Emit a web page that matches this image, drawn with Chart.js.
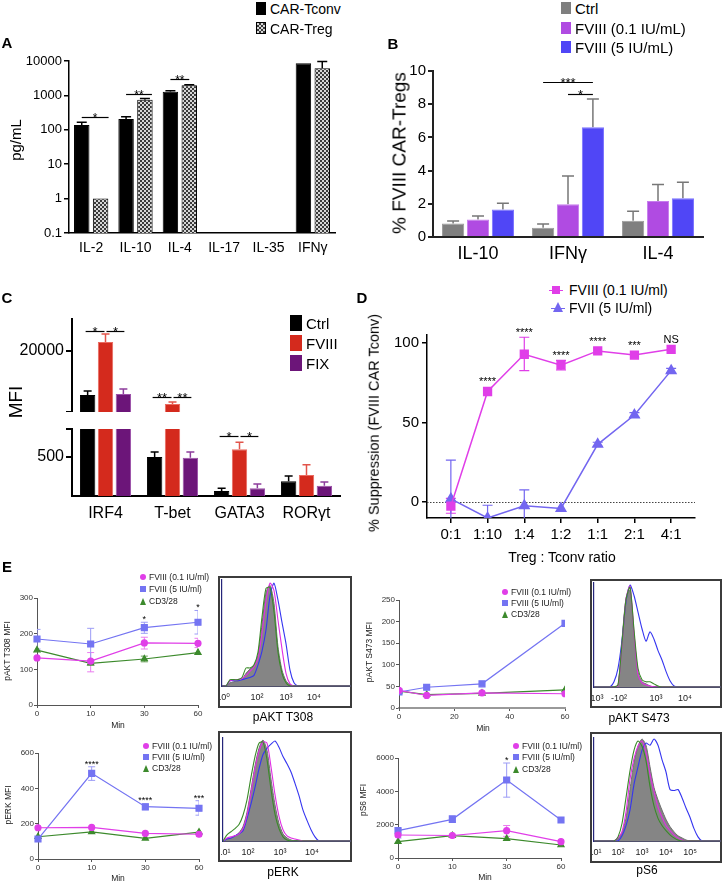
<!DOCTYPE html>
<html>
<head>
<meta charset="utf-8">
<title>FVIII CAR-Treg cytokines, suppression and signalling</title>
<script src="https://cdn.jsdelivr.net/npm/chart.js@4.4.1/dist/chart.umd.min.js"></script>
<style>
  body { margin: 0; width: 724px; height: 884px; position: relative; overflow: hidden; background: #fff;
         font-family: "Liberation Sans", "DejaVu Sans", Arial, sans-serif; }
  canvas.c { position: absolute; }
</style>
</head>
<body>
<script>
// A - cytokines from CAR-Tconv vs CAR-Treg (pg/mL, log axis)
const aCytokines = ['IL-2', 'IL-10', 'IL-4', 'IL-17', 'IL-35', 'IFNγ'];
const aTconv = [138, 206, 1280, null, null, 8570];
const aTconvErr = [165, 240, 1370, null, null, null];
const aTreg = [1, 750, 1960, null, null, 6140];
const aTregErr = [null, 810, 2040, null, null, 9700];
const aTicks = [0.1, 1, 10, 100, 1000, 10000];
const aTickLabels = ['0.1', '1', '10', '100', '1000', '10000'];

// B - % FVIII CAR-Tregs producing each cytokine
const bCytokines = ['IL-10', 'IFNγ', 'IL-4'];
const bCtrl = [0.82, 0.56, 0.98];
const bCtrlErr = [0.96, 0.78, 1.55];
const bLow = [1.06, 1.97, 2.17];
const bLowErr = [1.26, 3.67, 3.17];
const bHigh = [1.66, 6.61, 2.33];
const bHighErr = [2.03, 8.31, 3.3];

// C - transcription factor MFI (broken axis)
const cFactors = ['IRF4', 'T-bet', 'GATA3', 'RORγt'];
const cCtrl = [12790, 500, 64, 190];
const cCtrlErr = [13440, 564, 100, 256];
const cFviii = [21475, 11310, 600, 270];
const cFviiiErr = [22787, 11640, 690, 400];
const cFix = [12950, 490, 100, 130];
const cFixErr = [13770, 564, 155, 180];

// D - suppression of FVIII CAR Tconv
const dRatios = ['0:1', '1:10', '1:4', '1:2', '1:1', '2:1', '4:1'];
const dLow = [-2.5, 69.5, 92.9, 86, 95, 92.4, 96];
const dLowLo = [-7, null, 82.6, 83, null, null, null];
const dLowHi = [2.3, null, 103.6, 89, null, null, null];
const dFvii = [2, -10, -2.3, -4, 36.3, 54.7, 82.6];
const dFviiLo = [-22, -18, -12.3, null, 35, 53.2, 81.2];
const dFviiHi = [26.4, -2, 7.7, null, 37.6, 56.2, 84];
const dStars = ['', '****', '****', '****', '****', '***', 'NS'];
const dTicks = [0, 50, 100];

// E - phospho-signalling over time
const eTimes = ['0', '10', '30', '60'];
const eMinutes = [0, 10, 30, 60];
const e1Low = [132, 123, 174, 173];
const e1LowLo = [null, 93, 157, 161];
const e1LowHi = [null, 147, 190, 187];
const e1High = [185, 171, 217, 232];
const e1HighLo = [157, 125, 201, 199];
const e1HighHi = [212, 215, 232, 265];
const e1Cd = [154, 117, 129, 147];
const e1CdLo = [null, 112, 121, null];
const e1CdHi = [null, 124, 137, null];
const e1Stars = ['', '', '*', '*'];

const e3Low = [41, 29, 35, 33];
const e3High = [37, 48, 56, 196];
const e3Cd = [39, 31, 34, 42];

const e5Low = [177, 179, 145, 140];
const e5High = [113, 485, 296, 287];
const e5HighLo = [null, 445, 277, 248];
const e5HighHi = [null, 522, 312, 330];
const e5Cd = [126, 154, 117, 152];
const e5Stars = ['', '****', '****', '***'];

const e7Low = [1380, 1350, 1640, 980];
const e7LowLo = [null, null, 1300, null];
const e7LowHi = [null, null, 1950, null];
const e7High = [1640, 2320, 4680, 2280];
const e7HighLo = [1200, 2150, 3650, null];
const e7HighHi = [1750, 2550, 5700, null];
const e7Cd = [980, 1340, 1160, 780];
const e7Stars = ['', '', '*', ''];

// flow histograms: display channel, then gray / CD3-28 / FVIII 0.1 / FVIII 5 counts (% of mode)
const histChannel = [0, 4, 8, 12, 16, 20, 24, 28, 32, 36, 40, 44, 48, 52, 56, 60, 64, 68, 72, 76, 80, 84, 88, 92, 96, 100, 104, 108, 112, 116, 120, 124, 128];
const t308Gray    = [0, 0, 3, 4, 5, 6, 12, 16, 19, 29, 58, 88, 95, 78, 37, 15, 5, 1, 0, 0, 0, 0, 0, 0, 0, 0, 0, 0, 0, 0, 0, 0, 0];
const t308Green   = [0, 0, 6, 6, 6, 8, 17, 17, 20, 32, 65, 92, 93, 70, 32, 12, 3, 0, 0, 0, 0, 0, 0, 0, 0, 0, 0, 0, 0, 0, 0, 0, 0];
const t308Magenta = [0, 0, 5, 6, 6, 7, 10, 14, 18, 26, 50, 80, 97, 90, 62, 35, 12, 2, 0, 0, 0, 0, 0, 0, 0, 0, 0, 0, 0, 0, 0, 0, 0];
const t308Blue    = [0, 0, 5, 5, 5, 6, 7, 8, 10, 20, 33, 53, 85, 97, 81, 60, 40, 15, 3, 0, 0, 0, 0, 0, 0, 0, 0, 0, 0, 0, 0, 0, 0];
const t308TickPos = [1, 35, 64, 92];
const t308TickLab = ['10⁰', '10²', '10³', '10⁴'];

const s473Gray    = [0, 0, 0, 0, 0, 0, 1, 45, 85, 93, 50, 14, 5, 3, 1, 0, 0, 0, 0, 0, 0, 0, 0, 0, 0, 0, 0, 0, 0, 0, 0, 0, 0];
const s473Green   = [0, 0, 0, 0, 0, 0, 2, 42, 84, 96, 55, 18, 7, 5, 5, 3, 1, 0, 0, 0, 0, 0, 0, 0, 0, 0, 0, 0, 0, 0, 0, 0, 0];
const s473Magenta = [0, 0, 0, 0, 0, 0, 1, 40, 85, 97, 52, 12, 4, 2, 1, 0, 0, 0, 0, 0, 0, 0, 0, 0, 0, 0, 0, 0, 0, 0, 0, 0, 0];
const s473Blue    = [0, 0, 0, 0, 0, 5, 18, 45, 82, 98, 88, 72, 56, 44, 53, 46, 35, 26, 15, 6, 1, 0, 0, 0, 0, 0, 0, 0, 0, 0, 0, 0, 0];
const s473TickPos = [3, 25, 62, 91];
const s473TickLab = ['10³', '-10²', '10³', '10⁴'];

const erkGray    = [0, 2, 3, 5, 8, 14, 28, 50, 73, 90, 98, 88, 60, 35, 17, 7, 3, 1, 0, 0, 0, 0, 0, 0, 0, 0, 0, 0, 0, 0, 0, 0, 0];
const erkGreen   = [0, 6, 9, 12, 16, 25, 40, 62, 82, 95, 96, 79, 50, 26, 12, 4, 1, 0, 0, 0, 0, 0, 0, 0, 0, 0, 0, 0, 0, 0, 0, 0, 0];
const erkMagenta = [0, 3, 4, 5, 7, 12, 25, 47, 70, 87, 96, 95, 72, 45, 24, 11, 5, 3, 2, 1, 0, 0, 0, 0, 0, 0, 0, 0, 0, 0, 0, 0, 0];
const erkBlue    = [0, 2, 3, 5, 7, 10, 22, 36, 52, 70, 84, 90, 94, 97, 91, 82, 75, 67, 56, 44, 30, 20, 11, 4, 0, 0, 0, 0, 0, 0, 0, 0, 0];
const erkTickPos = [1, 25, 57, 89];
const erkTickLab = ['10¹', '10²', '10³', '10⁴'];

const s6Gray    = [0, 0, 0, 0, 0, 0, 2, 8, 22, 50, 76, 92, 99, 93, 72, 52, 40, 30, 21, 14, 9, 5, 3, 1, 0, 0, 0, 0, 0, 0, 0, 0, 0];
const s6Green   = [0, 0, 0, 0, 0, 0, 4, 17, 42, 68, 88, 97, 92, 78, 53, 34, 22, 15, 10, 6, 3, 1, 0, 0, 0, 0, 0, 0, 0, 0, 0, 0, 0];
const s6Magenta = [0, 0, 0, 0, 0, 0, 3, 9, 28, 60, 80, 92, 97, 86, 65, 48, 33, 23, 15, 10, 6, 3, 1, 0, 0, 0, 0, 0, 0, 0, 0, 0, 0];
const s6Blue    = [0, 0, 0, 0, 0, 0, 0, 5, 15, 30, 55, 72, 88, 95, 93, 99, 93, 79, 67, 50, 49, 50, 42, 32, 23, 12, 4, 0, 0, 0, 0, 0, 0];
const s6TickPos = [1, 24, 48, 72, 96];
const s6TickLab = ['10¹', '10²', '10³', '10⁴', '10⁵'];

const sans = '"Liberation Sans", "DejaVu Sans", Arial, sans-serif';
Chart.defaults.font.family = sans;
Chart.defaults.color = '#000';
Chart.defaults.animation = false;
Chart.defaults.responsive = false;
Chart.defaults.plugins.legend.display = false;
Chart.defaults.plugins.tooltip.enabled = false;

const MAGENTA = '#e03ee8';
const VIOLET = '#7366f0';

// plain html pieces (labels, legends, boxes)
function put(css, text) {
  const d = document.createElement('div');
  d.style.cssText = 'position:absolute;' + css;
  if (text != null) d.textContent = text;
  document.body.appendChild(d);
  return d;
}

function label(text, x, y, size, o) {
  o = o || {};
  let tf = 'translate(' + (o.left ? '0' : '-50%') + ',-50%)';
  if (o.rot) tf = 'translate(-50%,-50%) rotate(-90deg)';
  return put('left:' + x + 'px;top:' + y + 'px;font-size:' + size + 'px;line-height:1;white-space:nowrap;' +
    'transform:' + tf + ';color:' + (o.color || '#000') + ';' + (o.bold ? 'font-weight:bold;' : ''), text);
}

function swatch(kind, cx, cy, s, color) {
  const pos = 'left:' + (cx - s / 2) + 'px;top:' + (cy - s / 2) + 'px;';
  if (kind === 'dot') put(pos + 'width:' + s + 'px;height:' + s + 'px;border-radius:50%;background:' + color);
  if (kind === 'sq') put(pos + 'width:' + s + 'px;height:' + s + 'px;background:' + color);
  if (kind === 'tri') put(pos + 'width:0;height:0;border-left:' + (s / 2) + 'px solid transparent;border-right:' +
    (s / 2) + 'px solid transparent;border-bottom:' + s + 'px solid ' + color);
}

// canvas placed so that the plot area lands on area = [left, top, right, bottom]
function chartAt(area, m, cfg) {
  const cv = document.createElement('canvas');
  cv.className = 'c';
  cv.width = area[2] - area[0] + m[0] + m[2];
  cv.height = area[3] - area[1] + m[1] + m[3];
  cv.style.left = (area[0] - m[0]) + 'px';
  cv.style.top = (area[1] - m[1]) + 'px';
  document.body.appendChild(cv);
  const o = cfg.options;
  o.layout = { padding: { top: m[1], right: m[2], left: 0, bottom: 0 } };
  o.scales.x.afterFit = function (s) { s.height = m[3]; s.paddingLeft = 0; s.paddingRight = 0; };
  o.scales.y.afterFit = function (s) { s.width = m[0]; s.paddingTop = 0; s.paddingBottom = 0; };
  return new Chart(cv, cfg);
}

const noGrid = { display: false, drawTicks: false };
function tickMarks(color, width, len) {
  return { display: true, drawOnChartArea: false, drawTicks: true, tickLength: len, color: color, lineWidth: width };
}
function fixedTicks(list) {
  return function (s) { s.ticks = list.map(function (v) { return { value: v }; }); };
}

// error bars, significance bars, stars, dotted zero line
function marks(o) {
  o = o || {};
  return {
    id: 'marks',
    beforeDatasetsDraw(chart) {
      const ctx = chart.ctx, a = chart.chartArea;
      ctx.save();
      ctx.beginPath();
      ctx.rect(a.left, a.top - 1, a.right - a.left, a.bottom - a.top + 1);
      ctx.clip();
      if (o.zero) {
        const y = Math.round(chart.scales.y.getPixelForValue(0)) + 0.5;
        ctx.setLineDash([1.5, 1.5]);
        ctx.strokeStyle = '#444';
        ctx.lineWidth = 1;
        ctx.beginPath(); ctx.moveTo(a.left, y); ctx.lineTo(a.right, y); ctx.stroke();
        ctx.setLineDash([]);
      }
      chart.data.datasets.forEach(function (ds, i) {
        if (!ds.errHi && !ds.errLo) return;
        const meta = chart.getDatasetMeta(i);
        const ys = chart.scales[meta.yAxisID];
        ctx.strokeStyle = ds.errColor;
        ctx.lineWidth = ds.errWidth;
        meta.data.forEach(function (el, j) {
          const raw = ds.data[j];
          const v = raw !== null && typeof raw === 'object' ? raw.y : raw;
          if (v == null) return;
          const py = ys.getPixelForValue(v);
          const half = ds.errCap / 2;
          ctx.beginPath();
          [ds.errHi, ds.errLo].forEach(function (arr) {
            if (!arr || arr[j] == null) return;
            const pe = ys.getPixelForValue(arr[j]);
            ctx.moveTo(el.x, py); ctx.lineTo(el.x, pe);
            ctx.moveTo(el.x - half, pe); ctx.lineTo(el.x + half, pe);
          });
          ctx.stroke();
        });
      });
      ctx.restore();
    },
    afterDatasetsDraw(chart) {
      const ctx = chart.ctx, ys = chart.scales.y;
      ctx.save();
      ctx.fillStyle = '#000';
      ctx.strokeStyle = '#000';
      ctx.textAlign = 'center';
      ctx.textBaseline = 'alphabetic';
      (o.sig || []).forEach(function (s) {
        const xa = chart.getDatasetMeta(s.a[0]).data[s.a[1]].x + (s.pa || 0);
        const xb = chart.getDatasetMeta(s.b[0]).data[s.b[1]].x + (s.pb || 0);
        const y = Math.round(ys.getPixelForValue(s.y)) + 0.5;
        ctx.lineWidth = 1.2;
        ctx.beginPath(); ctx.moveTo(xa, y); ctx.lineTo(xb, y); ctx.stroke();
        ctx.font = o.sigFont;
        ctx.fillText(s.text, (xa + xb) / 2, y + 4);
      });
      if (o.stars) {
        const st = o.stars, ds = chart.data.datasets[st.ds], meta = chart.getDatasetMeta(st.ds);
        ctx.font = st.font;
        st.text.forEach(function (t, j) {
          if (!t) return;
          const raw = ds.data[j];
          const v = typeof raw === 'object' ? raw.y : raw;
          let top = ys.getPixelForValue(v) - st.r;
          if (ds.errHi && ds.errHi[j] != null) top = Math.min(top, ys.getPixelForValue(ds.errHi[j]));
          ctx.fillText(t, meta.data[j].x, top - (t === 'NS' ? 1 : st.gap));
        });
      }
      ctx.restore();
    }
  };
}

// checkered fill for the CAR-Treg bars
const checkerCanvas = document.createElement('canvas');
checkerCanvas.width = 4;
checkerCanvas.height = 4;
const cg = checkerCanvas.getContext('2d');
cg.fillStyle = '#d6d6d6'; cg.fillRect(0, 0, 4, 4);
cg.fillStyle = '#3a3a3a'; cg.fillRect(0, 0, 2, 2); cg.fillRect(2, 2, 2, 2);
const checker = cg.createPattern(checkerCanvas, 'repeat');

// ---------------- A ----------------
chartAt([69, 61, 335, 233], [69, 25, 10, 30], {
  type: 'bar',
  data: {
    labels: aCytokines,
    datasets: [
      { data: aTconv, errHi: aTconvErr, backgroundColor: '#000', borderColor: '#000', borderWidth: 1,
        errColor: '#000', errWidth: 1.5, errCap: 10, categoryPercentage: 0.85, barPercentage: 0.82 },
      { data: aTreg, errHi: aTregErr, backgroundColor: checker, borderColor: '#000', borderWidth: 1,
        errColor: '#000', errWidth: 1.5, errCap: 10, categoryPercentage: 0.85, barPercentage: 0.82 }
    ]
  },
  options: {
    scales: {
      x: { grid: noGrid, border: { color: '#000', width: 1.5 },
           ticks: { font: { size: 14 }, padding: 7, maxRotation: 0, autoSkip: false } },
      y: { type: 'logarithmic', min: 0.1, max: 10000, afterBuildTicks: fixedTicks(aTicks),
           ticks: { font: { size: 13 }, padding: 2, callback: function (v, i) { return aTickLabels[i]; } },
           grid: tickMarks('#000', 1.5, 5), border: { color: '#000', width: 1.5 } }
    }
  },
  plugins: [marks({
    sigFont: '12px ' + sans,
    sig: [
      { a: [0, 0], b: [1, 0], y: 231, text: '*', pb: 8 },
      { a: [0, 1], b: [1, 1], y: 1077, text: '**', pb: 7 },
      { a: [0, 2], b: [1, 2], y: 3000, text: '**' }
    ]
  })]
});
label('A', 7, 42, 15, { bold: true });
label('pg/mL', 15, 140, 15, { rot: true });
put('left:256px;top:2px;width:10px;height:13px;background:#000');
label('CAR-Tconv', 270, 9, 14, { left: true });
put('left:256px;top:22px;width:10px;height:12px;box-sizing:border-box;border:1px solid #000;' +
  'background:repeating-conic-gradient(#3a3a3a 0% 25%, #d6d6d6 0% 50%) 0 0 / 4px 4px');
label('CAR-Treg', 270, 29, 14, { left: true });

// ---------------- B ----------------
function bSet(data, err, fill, edge) {
  return { data: data, errHi: err, backgroundColor: fill, borderColor: edge, borderWidth: 1,
    errColor: '#777', errWidth: 1.5, errCap: 12, categoryPercentage: 0.83, barPercentage: 0.89 };
}
chartAt([433, 71, 703, 237], [40, 15, 15, 32], {
  type: 'bar',
  data: {
    labels: bCytokines,
    datasets: [
      bSet(bCtrl, bCtrlErr, '#7f7f7f', '#9c9c9c'),
      bSet(bLow, bLowErr, '#b04be2', '#c67cee'),
      bSet(bHigh, bHighErr, '#5046f6', '#7a72ff')
    ]
  },
  options: {
    scales: {
      x: { grid: noGrid, border: { color: '#222', width: 2 },
           ticks: { font: { size: 18 }, padding: 6, maxRotation: 0, autoSkip: false } },
      y: { min: 0, max: 10, ticks: { stepSize: 2, font: { size: 15 }, padding: 2 },
           grid: tickMarks('#222', 2, 5), border: { color: '#222', width: 2 } }
    }
  },
  plugins: [marks({
    sigFont: '13px ' + sans,
    sig: [
      { a: [0, 1], b: [2, 1], y: 9.32, text: '***' },
      { a: [1, 1], b: [2, 1], y: 8.6, text: '*' }
    ]
  })]
});
label('B', 393, 43, 15, { bold: true });
label('% FVIII CAR-Tregs', 399, 153, 19, { rot: true });
put('left:561px;top:2px;width:10px;height:12px;background:#7f7f7f');
label('Ctrl', 575, 8, 15, { left: true });
put('left:561px;top:22px;width:10px;height:12px;background:#b04be2');
label('FVIII (0.1 IU/mL)', 575, 28, 15, { left: true });
put('left:561px;top:41px;width:10px;height:12px;background:#5046f6');
label('FVIII (5 IU/mL)', 575, 47, 15, { left: true });

// ---------------- C (broken axis: two stacked charts) ----------------
function cSets() {
  return [
    { data: cCtrl, errHi: cCtrlErr, backgroundColor: '#000', borderColor: '#000', borderWidth: 1,
      errColor: '#000', errWidth: 1.5, errCap: 8, clip: 0, categoryPercentage: 0.8, barPercentage: 0.86 },
    { data: cFviii, errHi: cFviiiErr, backgroundColor: '#d42a1d', borderColor: '#ea6a60', borderWidth: 1,
      errColor: '#e2544a', errWidth: 1.5, errCap: 8, clip: 0, categoryPercentage: 0.8, barPercentage: 0.86 },
    { data: cFix, errHi: cFixErr, backgroundColor: '#6c1579', borderColor: '#9b50a8', borderWidth: 1,
      errColor: '#8d3d9c', errWidth: 1.5, errCap: 8, clip: 0, categoryPercentage: 0.8, barPercentage: 0.86 }
  ];
}
const cUpperTicks = [10000, 20000];
const cUpperLabels = ['', '20000'];
chartAt([72, 319, 340, 412], [72, 14, 10, 0], {
  type: 'bar',
  data: { labels: cFactors, datasets: cSets() },
  options: {
    scales: {
      x: { display: false },
      y: { min: 10000, max: 25250, afterBuildTicks: fixedTicks(cUpperTicks),
           ticks: { font: { size: 16 }, padding: 2, callback: function (v, i) { return cUpperLabels[i]; } },
           grid: tickMarks('#000', 2, 6), border: { color: '#000', width: 2 } }
    }
  },
  plugins: [marks({
    sigFont: '13px ' + sans,
    sig: [
      { a: [0, 0], b: [1, 0], y: 23280, text: '*', pa: -2, pb: -1 },
      { a: [1, 0], b: [2, 0], y: 23280, text: '*', pa: 1, pb: 1 },
      { a: [0, 1], b: [1, 1], y: 12459, text: '**', pa: -2, pb: -1 },
      { a: [1, 1], b: [2, 1], y: 12459, text: '**', pa: 1, pb: 1 }
    ]
  })]
});
const cLowerTicks = [500, 860];
const cLowerLabels = ['500', ''];
chartAt([72, 429, 340, 496], [72, 4, 10, 30], {
  type: 'bar',
  data: { labels: cFactors, datasets: cSets() },
  options: {
    scales: {
      x: { grid: noGrid, border: { color: '#000', width: 2 },
           ticks: { font: { size: 16 }, padding: 8, maxRotation: 0, autoSkip: false } },
      y: { min: 0, max: 860, afterBuildTicks: fixedTicks(cLowerTicks),
           ticks: { font: { size: 16 }, padding: 2, callback: function (v, i) { return cLowerLabels[i]; } },
           grid: tickMarks('#000', 2, 6), border: { color: '#000', width: 2 } }
    }
  },
  plugins: [marks({
    sigFont: '13px ' + sans,
    sig: [
      { a: [0, 2], b: [1, 2], y: 769, text: '*', pa: -2, pb: -1 },
      { a: [1, 2], b: [2, 2], y: 769, text: '*', pa: 1, pb: 1 }
    ]
  })]
});
label('C', 7, 297, 15, { bold: true });
label('MFI', 15, 402, 19, { rot: true });
put('left:290px;top:315px;width:12px;height:16px;background:#000');
label('Ctrl', 306, 323, 15, { left: true });
put('left:290px;top:335px;width:12px;height:16px;background:#d42a1d');
label('FVIII', 306, 343, 15, { left: true });
put('left:290px;top:355px;width:12px;height:16px;background:#6c1579');
label('FIX', 306, 363, 15, { left: true });

// ---------------- D ----------------
chartAt([427, 335, 695, 518], [50, 25, 15, 32], {
  type: 'line',
  data: {
    datasets: [
      { data: dLow.map(function (v, i) { return { x: i, y: v }; }), errLo: dLowLo, errHi: dLowHi,
        borderColor: MAGENTA, backgroundColor: MAGENTA, pointStyle: 'rect', pointRadius: 5.5, borderWidth: 1.5,
        errColor: MAGENTA, errWidth: 1.2, errCap: 10 },
      { data: dFvii.map(function (v, i) { return { x: i, y: v }; }), errLo: dFviiLo, errHi: dFviiHi,
        borderColor: VIOLET, backgroundColor: VIOLET, pointStyle: 'triangle', pointRadius: 5.5, borderWidth: 1.5,
        errColor: VIOLET, errWidth: 1.2, errCap: 10 }
    ]
  },
  options: {
    scales: {
      x: { type: 'linear', min: -0.65, max: 6.65, afterBuildTicks: fixedTicks(dRatios.map(function (r, i) { return i; })),
           ticks: { font: { size: 15 }, padding: 3, maxRotation: 0, autoSkip: false,
                    callback: function (v, i) { return dRatios[i]; } },
           grid: tickMarks('#000', 1.5, 5), border: { color: '#000', width: 1.5 } },
      y: { min: -10, max: 105, afterBuildTicks: fixedTicks(dTicks),
           ticks: { font: { size: 15 }, padding: 3, callback: function (v, i) { return String(dTicks[i]); } },
           grid: tickMarks('#000', 1.5, 5), border: { color: '#000', width: 1.5 } }
    }
  },
  plugins: [marks({ zero: true, stars: { ds: 0, text: dStars, font: '11px ' + sans, r: 5, gap: 1 } })]
});
label('D', 362, 297, 15, { bold: true });
put('left:549px;top:289.5px;width:14px;height:1.5px;background:' + MAGENTA);
swatch('sq', 556, 290, 8, MAGENTA);
label('FVIII (0.1 IU/ml)', 569, 290, 14, { left: true });
put('left:551px;top:307.5px;width:14px;height:1.5px;background:' + VIOLET);
swatch('tri', 558, 307, 10, VIOLET);
label('FVII (5 IU/ml)', 569, 308, 14, { left: true });
label('% Suppression (FVIII CAR Tconv)', 374, 423, 14.5, { rot: true });
label('Treg : Tconv ratio', 562, 557, 14);

// ---------------- E: time courses ----------------
const E_MAG = '#e03ee8', E_BLUE = '#7474f2', E_GREEN = '#3c8a2c';
function eSet(data, lo, hi, color, err, style, r) {
  return { data: data, errLo: lo, errHi: hi, borderColor: color, backgroundColor: color,
    pointStyle: style, pointRadius: r, borderWidth: 1.2, errColor: err, errWidth: 1, errCap: 7 };
}
function eScales(yMax, yStep) {
  return {
    x: { grid: tickMarks('#555', 1, 3), border: { color: '#555', width: 1 },
         ticks: { font: { size: 8 }, color: '#333', padding: 1, maxRotation: 0, autoSkip: false } },
    y: { min: 0, max: yMax,
         ticks: { stepSize: yStep, font: { size: 8 }, color: '#333', padding: 1,
                  callback: function (v) { return String(v); } },
         grid: tickMarks('#555', 1, 3), border: { color: '#555', width: 1 } }
  };
}
function eLegend(x, rows) {
  swatch('dot', x, rows[0], 6, E_MAG);
  label('FVIII (0.1 IU/ml)', x + 6, rows[0], 8.5, { left: true, color: '#222' });
  swatch('sq', x, rows[1], 6, E_BLUE);
  label('FVIII (5 IU/ml)', x + 6, rows[1], 8.5, { left: true, color: '#222' });
  swatch('tri', x, rows[2], 7, E_GREEN);
  label('CD3/28', x + 6, rows[2], 8.5, { left: true, color: '#222' });
}

chartAt([37, 598, 198, 705], [37, 22, 20, 24], {
  type: 'line',
  data: {
    labels: eTimes,
    datasets: [
      eSet(e1Low, e1LowLo, e1LowHi, E_MAG, '#ea7cef', 'circle', 3),
      eSet(e1High, e1HighLo, e1HighHi, E_BLUE, '#9c9cf6', 'rect', 4.2),
      eSet(e1Cd, e1CdLo, e1CdHi, E_GREEN, '#6aa05a', 'triangle', 3.5)
    ]
  },
  options: { scales: eScales(300, 100) },
  plugins: [marks({ stars: { ds: 1, text: e1Stars, font: '9px ' + sans, r: 4, gap: 0 } })]
});

const e3Scales = eScales(250, 50);
e3Scales.x.type = 'linear';
e3Scales.x.min = 0;
e3Scales.x.max = 60;
e3Scales.x.ticks.stepSize = 20;
e3Scales.x.border = { color: '#999', width: 2, dash: [2, 1] };
function byMinute(vals) { return vals.map(function (v, i) { return { x: eMinutes[i], y: v }; }); }
chartAt([399, 600, 565, 708], [37, 22, 20, 22], {
  type: 'line',
  data: {
    datasets: [
      eSet(byMinute(e3Low), null, null, E_MAG, E_MAG, 'circle', 3),
      eSet(byMinute(e3High), null, null, E_BLUE, E_BLUE, 'rect', 4.2),
      eSet(byMinute(e3Cd), null, null, E_GREEN, E_GREEN, 'triangle', 3.5)
    ]
  },
  options: { scales: e3Scales },
  plugins: [marks()]
});

chartAt([38, 753, 199, 859], [38, 22, 20, 24], {
  type: 'line',
  data: {
    labels: eTimes,
    datasets: [
      eSet(e5Low, null, null, E_MAG, E_MAG, 'circle', 3),
      eSet(e5High, e5HighLo, e5HighHi, E_BLUE, '#9c9cf6', 'rect', 4.2),
      eSet(e5Cd, null, null, E_GREEN, E_GREEN, 'triangle', 3.5)
    ]
  },
  options: { scales: eScales(600, 200) },
  plugins: [marks({ stars: { ds: 1, text: e5Stars, font: '9px ' + sans, r: 4, gap: 0 } })]
});

chartAt([398, 758, 561, 858], [36, 22, 20, 24], {
  type: 'line',
  data: {
    labels: eTimes,
    datasets: [
      eSet(e7Low, e7LowLo, e7LowHi, E_MAG, '#ea7cef', 'circle', 3),
      eSet(e7High, e7HighLo, e7HighHi, E_BLUE, '#9c9cf6', 'rect', 4.2),
      eSet(e7Cd, null, null, E_GREEN, E_GREEN, 'triangle', 3.5)
    ]
  },
  options: { scales: eScales(6000, 2000) },
  plugins: [marks({ stars: { ds: 1, text: e7Stars, font: '9px ' + sans, r: 4, gap: 0 } })]
});

label('E', 7, 566, 15, { bold: true });
eLegend(143, [577, 589, 601]);
eLegend(505, [592, 603, 614]);
eLegend(146, [746, 757, 768]);
eLegend(516, [746, 757, 769]);
label('pAKT T308 MFI', 7, 651, 8.5, { rot: true, color: '#222' });
label('pAKT S473 MFI', 369, 652, 8.5, { rot: true, color: '#222' });
label('pERK MFI', 8, 805, 8.5, { rot: true, color: '#222' });
label('pS6 MFI', 363, 800, 8.5, { rot: true, color: '#222' });
label('Min', 118, 725, 8.5, { color: '#222' });
label('Min', 483, 728, 8.5, { color: '#222' });
label('Min', 118, 878, 8.5, { color: '#222' });
label('Min', 485, 877, 8.5, { color: '#222' });

// ---------------- E: flow histograms ----------------
function hist(area, box, xMax, curves, tickPos, tickLab) {
  put('left:' + box[0] + 'px;top:' + box[1] + 'px;width:' + box[2] + 'px;height:' + box[3] +
    'px;border:2px solid #3c3c3c;box-sizing:border-box');
  function pts(arr) { return arr.map(function (v, i) { return { x: histChannel[i], y: v }; }); }
  function line(arr, color) {
    return { data: pts(arr), borderColor: color, borderWidth: 1.1, pointRadius: 0, tension: 0.25, fill: false };
  }
  chartAt(area, [2, 2, 2, 20], {
    type: 'line',
    data: {
      datasets: [
        line(curves[1], '#3a8a28'),
        line(curves[2], '#e02ee4'),
        line(curves[3], '#3535f0'),
        { data: pts(curves[0]), borderColor: '#707070', backgroundColor: '#858585', borderWidth: 1,
          pointRadius: 0, tension: 0.25, fill: 'origin' }
      ]
    },
    options: {
      scales: {
        x: { type: 'linear', min: 0, max: xMax, afterBuildTicks: fixedTicks(tickPos),
             grid: noGrid, border: { color: '#50506a', width: 2 },
             ticks: { font: { size: 9 }, color: '#222', padding: 6, maxRotation: 0, autoSkip: false,
                      callback: function (v, i) { return tickLab[i]; } } },
        y: { min: 0, max: 100, grid: noGrid, ticks: { display: false }, border: { color: '#25257a', width: 1.2 } }
      }
    }
  });
}
hist([222, 580, 350, 686], [218, 576, 134, 132], 128, [t308Gray, t308Green, t308Magenta, t308Blue], t308TickPos, t308TickLab);
hist([594, 583, 720, 687], [590, 579, 132, 129], 126, [s473Gray, s473Green, s473Magenta, s473Blue], s473TickPos, s473TickLab);
hist([223, 738, 350, 841], [218, 731, 134, 131], 127, [erkGray, erkGreen, erkMagenta, erkBlue], erkTickPos, erkTickLab);
hist([594, 738, 720, 841], [590, 732, 132, 131], 126, [s6Gray, s6Green, s6Magenta, s6Blue], s6TickPos, s6TickLab);
label('pAKT T308', 283, 717, 12);
label('pAKT S473', 639, 718, 12);
label('pERK', 283, 872, 12);
label('pS6', 647, 870, 12);
</script>
</body>
</html>
